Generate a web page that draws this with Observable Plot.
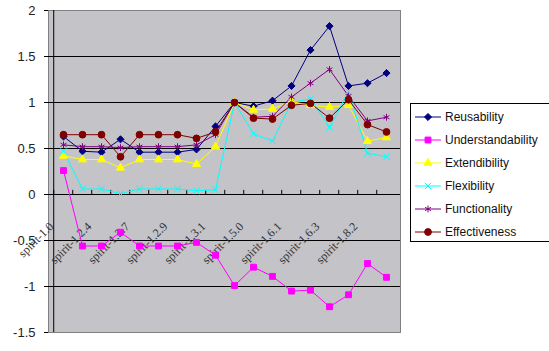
<!DOCTYPE html>
<html><head><meta charset="utf-8">
<script src="https://cdn.jsdelivr.net/npm/d3@7"></script>
<script src="https://cdn.jsdelivr.net/npm/@observablehq/plot@0.6"></script>
<style>
body{margin:0;background:#fff;overflow:hidden}
#wrap{position:relative;width:549px;height:351px;overflow:hidden}
#legend{position:absolute;left:410px;top:103px;width:145px;height:137px;border:1px solid #000;background:#fff;font-family:"Liberation Sans",sans-serif;font-size:12px;color:#111}
.item{position:absolute;left:4px;height:20px;display:flex;align-items:center}
.item span{margin-left:4px}
</style>
</head><body><div id="wrap"><div id="legend"></div></div>
<script>
const categories = ["spirit-1.0","spirit-1.2","spirit-1.2.4","spirit-1.2.6","spirit-1.2.7","spirit-1.2.8","spirit-1.2.9","spirit-1.3.0","spirit-1.3.1","spirit-1.4.0","spirit-1.5.0","spirit-1.6.0","spirit-1.6.1","spirit-1.6.2","spirit-1.6.3","spirit-1.8.1","spirit-1.8.2","spirit-1.8.3"];
const reusability       = [0.63,0.47,0.46,0.60,0.46,0.46,0.46,0.49,0.74,1.00,0.96,1.02,1.18,1.57,1.83,1.18,1.21,1.32];
const understandability = [0.26,-0.56,-0.56,-0.41,-0.56,-0.56,-0.56,-0.52,-0.66,-0.99,-0.79,-0.89,-1.05,-1.04,-1.22,-1.09,-0.75,-0.90];
const extendibility     = [0.42,0.38,0.38,0.29,0.38,0.38,0.38,0.33,0.52,1.00,0.92,0.93,1.01,0.97,0.95,0.97,0.58,0.62];
const flexibility       = [0.47,0.06,0.06,0.01,0.06,0.06,0.06,0.04,0.05,1.00,0.66,0.58,1.00,1.04,0.73,1.12,0.45,0.41];
const functionality     = [0.54,0.52,0.52,0.51,0.52,0.52,0.52,0.54,0.65,1.00,0.84,0.85,1.06,1.21,1.36,1.07,0.80,0.84];
const effectiveness     = [0.65,0.65,0.65,0.41,0.65,0.65,0.65,0.61,0.68,1.00,0.83,0.82,0.97,0.99,0.83,1.03,0.76,0.68];
const seriesNames   = ["Reusability","Understandability","Extendibility","Flexibility","Functionality","Effectiveness"];
const seriesValues  = [reusability,understandability,extendibility,flexibility,functionality,effectiveness];
const seriesColors  = ["#000080","#ff00ff","#ffff00","#00ffff","#800080","#800000"];
const seriesSymbols = ["diamond2","square","triangle","times","asterisk","circle"];
const seriesFilled  = [true,true,true,false,false,true];
const seriesR       = [3.2,3.3,3.0,3.0,3.2,3.4];
const yTicks = [-1.5,-1,-0.5,0,0.5,1,1.5,2];
const gridY = [-1,-0.5,0,0.5,1,1.5];
const tickLabels = categories.filter((c,i)=>i%2===0);

const W = 549, H = 351, mL = 48, mR = 149, mT = 10, mB = 19;
const step = (W - mL - mR) / categories.length;

const rows = [];
seriesNames.forEach((s,si)=>seriesValues[si].forEach((v,i)=>rows.push({series:s, cat:categories[i], value:v})));

const marks = [
  Plot.frame({fill:"#c4c3c7", stroke:"#808080"}),
  Plot.ruleY(gridY, {stroke:"#000"}),
  Plot.ruleX(categories, {x:d=>d, y1:0, y2:0.045, dx:-step/2, stroke:"#000"}),
  Plot.ruleX([categories[0]], {x:d=>d, y1:-1.5, y2:2, dx:-step/2, stroke:"#000"}),
  Plot.axisY({ticks:yTicks, tickSize:4, tickPadding:9, tickFormat:d=>String(d), fontSize:13, label:null, stroke:"#000", fill:"#222"}),
  Plot.text(tickLabels, {x:d=>d, y:0, text:d=>d, rotate:-45, textAnchor:"end", dx:-12, dy:30, fontSize:12, fontFamily:"Liberation Serif", fill:"#333"})
];
seriesNames.forEach((s,si)=>{
  const d = rows.filter(r=>r.series===s);
  marks.push(Plot.line(d, {x:"cat", y:"value", stroke:seriesColors[si], strokeWidth:1}));
});
seriesNames.forEach((s,si)=>{
  const d = rows.filter(r=>r.series===s);
  marks.push(Plot.dot(d, {x:"cat", y:"value", symbol:seriesSymbols[si], r:seriesR[si],
    fill: seriesFilled[si] ? seriesColors[si] : "none", stroke:seriesColors[si], strokeWidth:1}));
});

const chart = Plot.plot({
  width:W, height:H, marginLeft:mL, marginRight:mR, marginTop:mT, marginBottom:mB,
  style:{fontFamily:"Liberation Sans, sans-serif", background:"transparent"},
  x:{type:"point", domain:categories, padding:0.5, axis:null},
  y:{domain:[-1.5,2], axis:null},
  marks
});
document.getElementById("wrap").prepend(chart);

// legend
const leg = d3.select("#legend");
seriesNames.forEach((s,si)=>{
  const it = leg.append("div").attr("class","item").style("top",(3+si*23)+"px");
  const svg = it.append("svg").attr("width",26).attr("height",20);
  svg.append("line").attr("x1",0).attr("x2",26).attr("y1",10).attr("y2",10).attr("stroke",seriesColors[si]);
  const symMap = {diamond2:d3.symbolDiamond2, square:d3.symbolSquare, triangle:d3.symbolTriangle, times:d3.symbolTimes, asterisk:d3.symbolAsterisk, circle:d3.symbolCircle};
  const r = seriesR[si];
  svg.append("path").attr("transform","translate(13,10)")
    .attr("d", d3.symbol(symMap[seriesSymbols[si]], r*r*Math.PI)())
    .attr("fill", seriesFilled[si] ? seriesColors[si] : "none").attr("stroke", seriesColors[si]);
  it.append("span").text(s);
});
</script></body></html>
